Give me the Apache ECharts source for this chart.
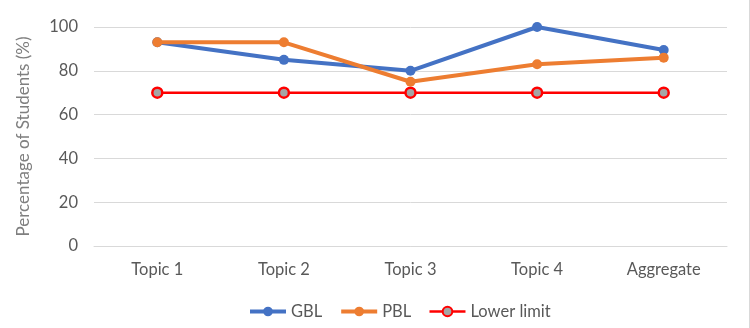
<!DOCTYPE html>
<html>
<head>
<meta charset="utf-8">
<script src="https://cdn.jsdelivr.net/npm/echarts@6/dist/echarts.min.js"></script>
<style>
  html, body { margin: 0; padding: 0; background: #fff; }
  #chart { width: 750px; height: 328px; box-sizing: border-box; border-right: 1px solid #d9d9d9; }
</style>
</head>
<body>
<div id="chart"></div>
<script>
const categories = ["Topic 1", "Topic 2", "Topic 3", "Topic 4", "Aggregate"];
const gbl = [93, 85, 80, 100, 89.5];
const pbl = [93, 93, 75, 83, 86];
const lowerLimit = [70, 70, 70, 70, 70];

const font = "Lato, 'Open Sans', sans-serif";

const chart = echarts.init(document.getElementById("chart"));

const option = {
  animation: false,
  textStyle: { fontFamily: font },
  grid: { left: 94, right: 22, top: 27, bottom: 82 },
  legend: {
    top: 298,
    left: 243,
    itemWidth: 36,
    itemHeight: 12,
    itemGap: 17,
    textStyle: { color: "#595959", fontSize: 16.5, fontFamily: font },
    data: [
      { name: "GBL", lineStyle: { width: 4 } },
      { name: "PBL", lineStyle: { width: 4 } },
      { name: "Lower limit", lineStyle: { width: 2.5 } }
    ]
  },
  xAxis: {
    type: "category",
    data: categories,
    boundaryGap: true,
    axisLine: { lineStyle: { color: "#d9d9d9", width: 1 } },
    axisTick: { show: false },
    axisLabel: { color: "#595959", fontSize: 16.5, margin: 15 }
  },
  yAxis: {
    type: "value",
    min: 0,
    max: 100,
    interval: 20,
    name: "Percentage of Students (%)",
    nameLocation: "middle",
    nameGap: 62,
    nameTextStyle: { color: "#7f7f7f", fontSize: 17 },
    axisLine: { show: false },
    axisTick: { show: false },
    axisLabel: { color: "#595959", fontSize: 16.5, margin: 16 },
    splitLine: { lineStyle: { color: "#d9d9d9", width: 1 } }
  },
  series: [
    {
      name: "GBL",
      type: "line",
      data: gbl,
      symbol: "circle",
      symbolSize: 10,
      lineStyle: { color: "#4472c4", width: 4 },
      itemStyle: { color: "#4472c4" },
      z: 3
    },
    {
      name: "PBL",
      type: "line",
      data: pbl,
      symbol: "circle",
      symbolSize: 10,
      lineStyle: { color: "#ed7d31", width: 4 },
      itemStyle: { color: "#ed7d31" },
      z: 4
    },
    {
      name: "Lower limit",
      type: "line",
      data: lowerLimit,
      symbol: "circle",
      symbolSize: 10,
      lineStyle: { color: "#ff0000", width: 2.5 },
      itemStyle: { color: "#a5a5a5", borderColor: "#ff0000", borderWidth: 2.5 },
      z: 2
    }
  ]
};

chart.setOption(option);
</script>
</body>
</html>
